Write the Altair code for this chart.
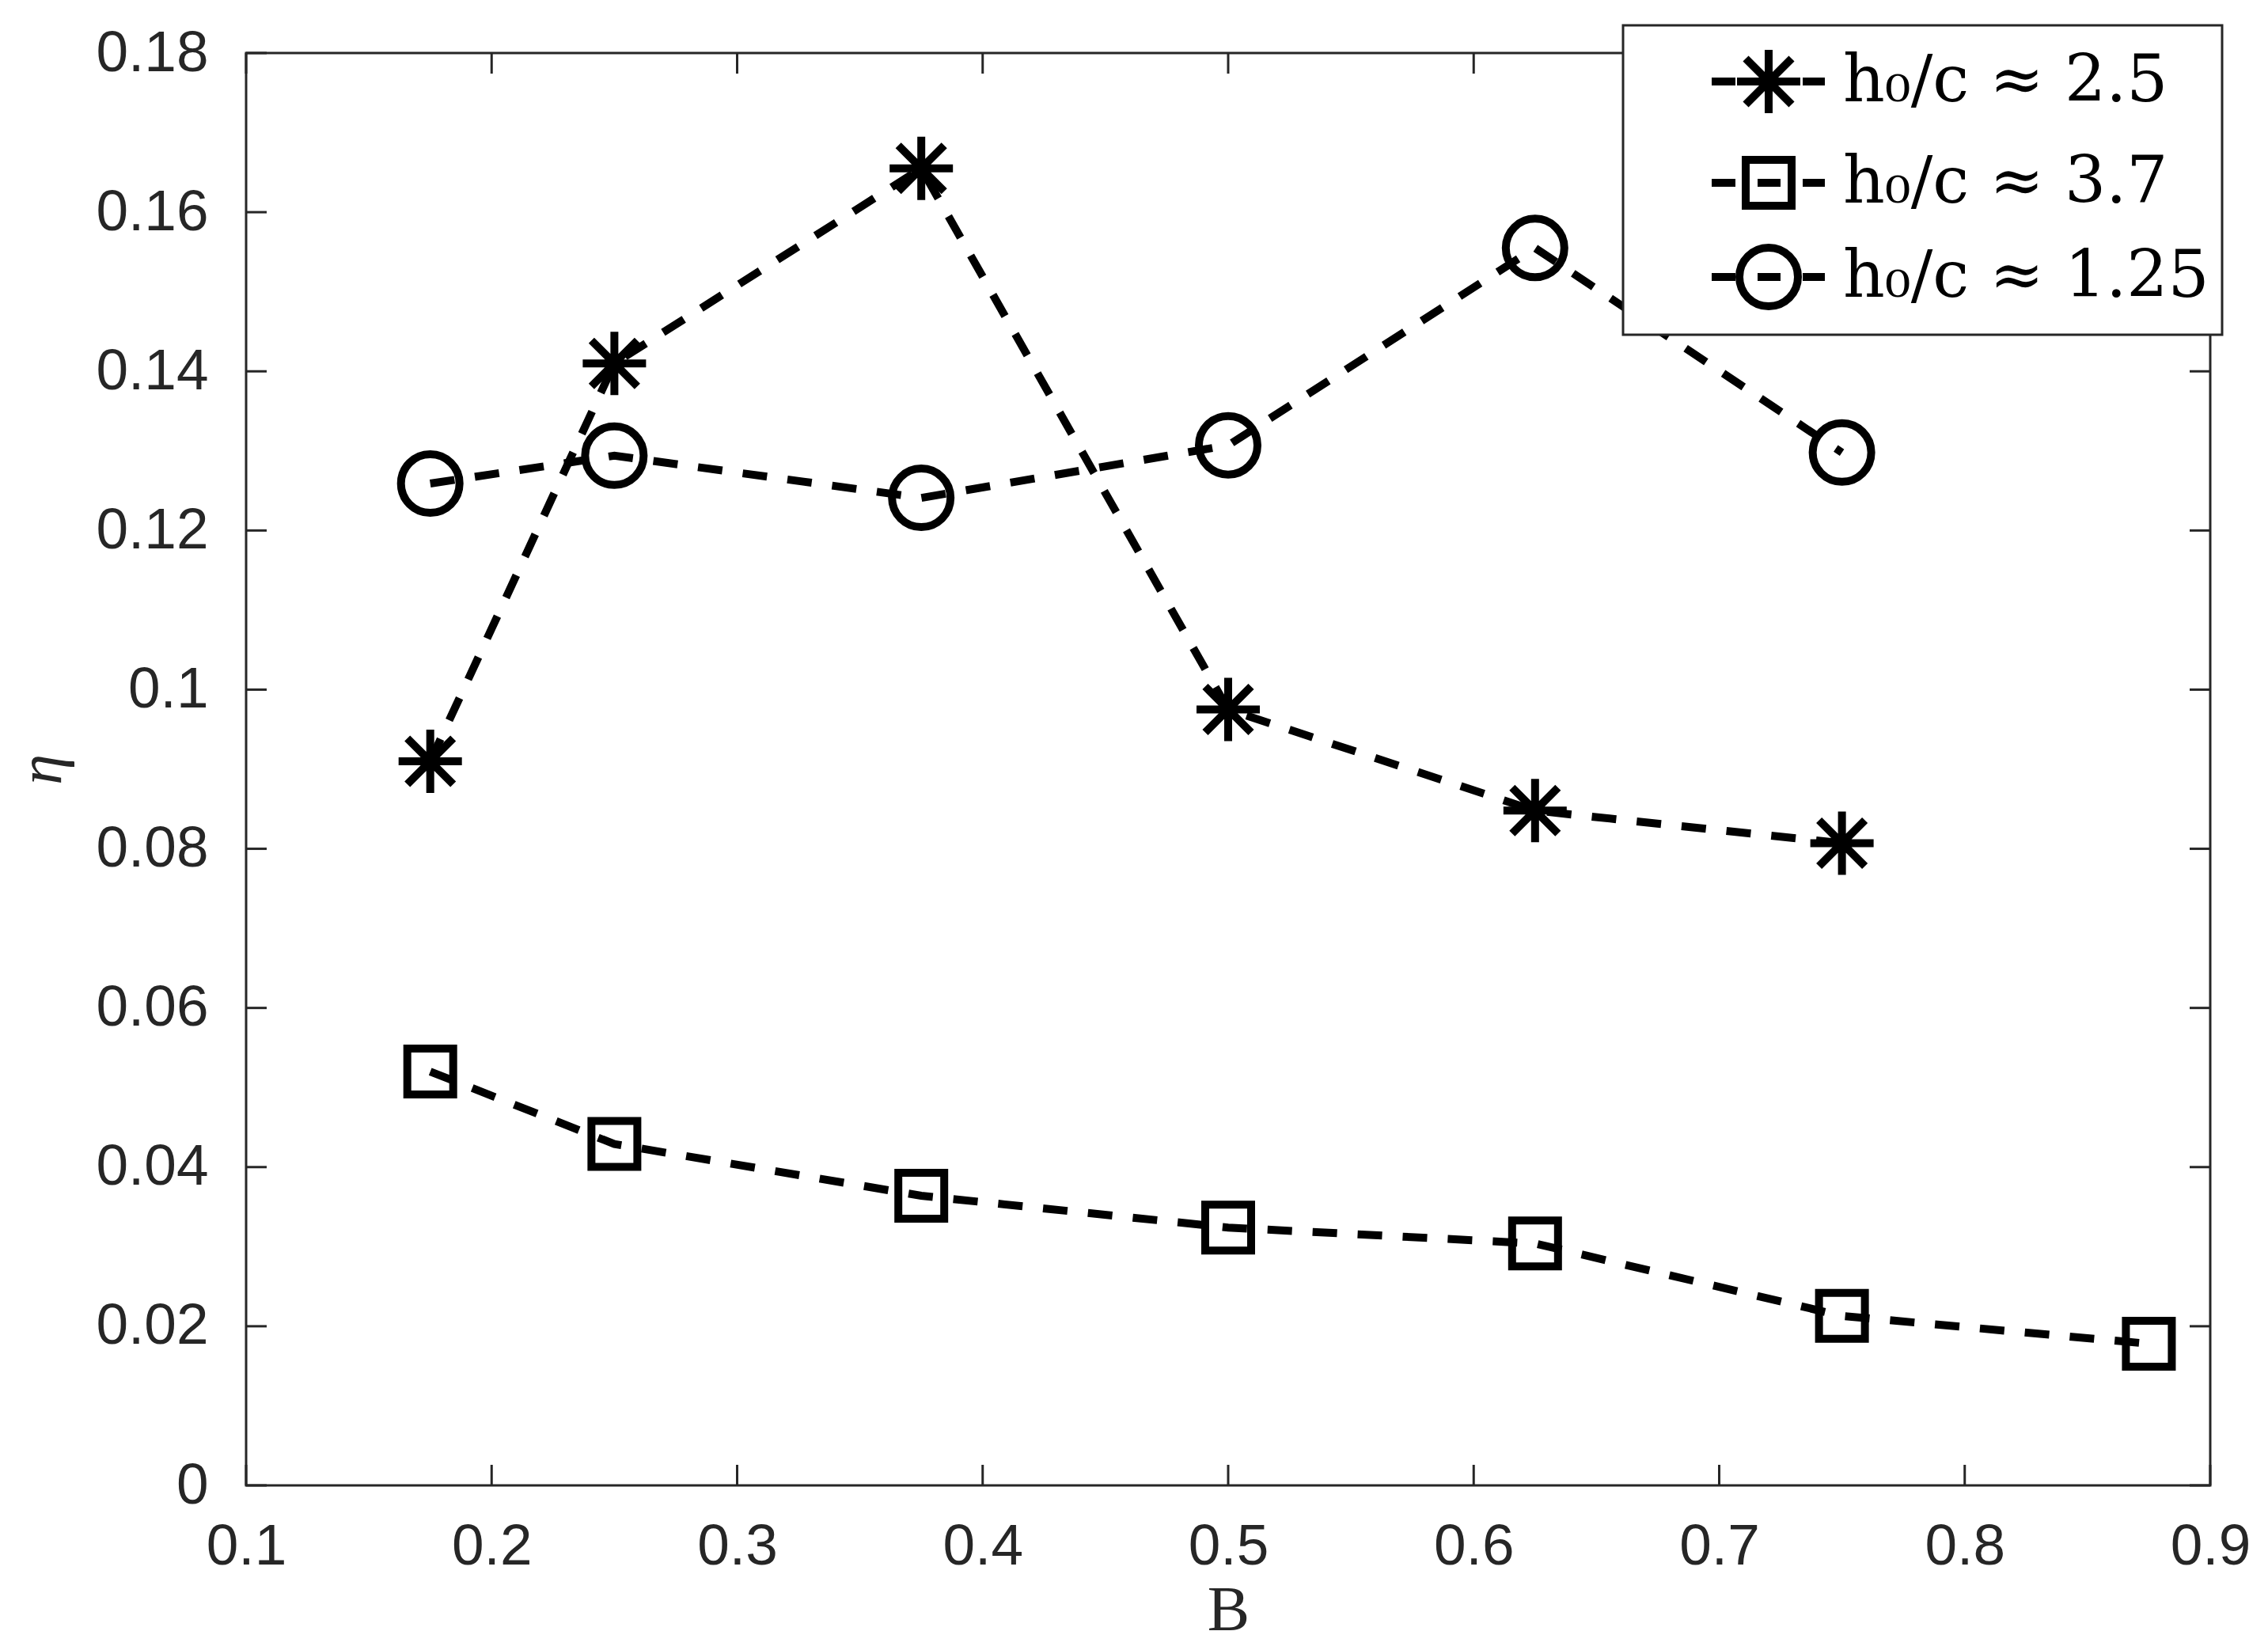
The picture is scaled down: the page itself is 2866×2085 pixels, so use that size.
import altair as alt
import pandas as pd

# ---- data ----
B_star = [0.175, 0.25, 0.375, 0.5, 0.625, 0.75]
eta_star = [0.0910, 0.1410, 0.1655, 0.0975, 0.0848, 0.0807]

B_square = [0.175, 0.25, 0.375, 0.5, 0.625, 0.75, 0.875]
eta_square = [0.0520, 0.0429, 0.0364, 0.0324, 0.0304, 0.0213, 0.0178]

B_circle = [0.175, 0.25, 0.375, 0.5, 0.625, 0.75]
eta_circle = [0.1259, 0.1294, 0.1241, 0.1307, 0.1555, 0.1298]

series_labels = ["h₀/c ≈ 2.5", "h₀/c ≈ 3.7", "h₀/c ≈ 1.25"]

x_ticks = [0.1, 0.2, 0.3, 0.4, 0.5, 0.6, 0.7, 0.8, 0.9]
y_ticks = [0, 0.02, 0.04, 0.06, 0.08, 0.1, 0.12, 0.14, 0.16, 0.18]

# ---- marker shapes (unit = 50 px at size 10000) ----
asterisk = "M0,-0.8L0,0.8M-0.8,0L0.8,0M-0.58,-0.58L0.58,0.58M-0.58,0.58L0.58,-0.58"
square = "M-0.58,-0.58L0.58,-0.58L0.58,0.58L-0.58,0.58Z"
circle = "M-0.74,0A0.74,0.74,0,1,0,0.74,0A0.74,0.74,0,1,0,-0.74,0Z"
side_dashes = "M-1.44,0L-0.84,0M0.86,0L1.42,0"
mid_dash = "M-0.28,0L0.3,0"
marker_paths = [asterisk, square, circle]
legend_paths = [side_dashes + asterisk,
                side_dashes + mid_dash + square,
                side_dashes + mid_dash + circle]

rows = []
for b, e in zip(B_star, eta_star):
    rows.append({"B": b, "eta": e, "series": series_labels[0]})
for b, e in zip(B_square, eta_square):
    rows.append({"B": b, "eta": e, "series": series_labels[1]})
for b, e in zip(B_circle, eta_circle):
    rows.append({"B": b, "eta": e, "series": series_labels[2]})
df = pd.DataFrame(rows)

W, H = 2482, 1810
TICK = 26
AXC = "#262626"

xscale = alt.Scale(domain=[0.1, 0.9], nice=False, zero=False)
yscale = alt.Scale(domain=[0, 0.18], nice=False, zero=False)

x_axis = alt.Axis(values=x_ticks, format="~g", title="B",
                  labelPadding=41, labelFlush=False, labelOverlap=False,
                  titleX=W / 2, titleY=182, titleAlign="center",
                  titleBaseline="alphabetic", titleFontSize=80)
y_axis = alt.Axis(values=y_ticks, format="~g", title="η",
                  labelPadding=48, labelFlush=False, labelOverlap=False,
                  titleX=-235, titleY=H / 2, titleAngle=270,
                  titleAlign="center", titleBaseline="alphabetic",
                  titleFontStyle="italic", titleFontSize=78)

base = alt.Chart(df)

lines = base.mark_line(color="black", strokeWidth=10, strokeDash=[31, 26]).encode(
    x=alt.X("B:Q", scale=xscale, axis=x_axis),
    y=alt.Y("eta:Q", scale=yscale, axis=y_axis),
    detail="series:N",
)

points = base.mark_point(filled=False, color="black", strokeWidth=10, size=10000,
                         opacity=1).encode(
    x=alt.X("B:Q", scale=xscale, axis=x_axis),
    y=alt.Y("eta:Q", scale=yscale, axis=y_axis),
    shape=alt.Shape("series:N",
                    scale=alt.Scale(domain=series_labels, range=marker_paths),
                    legend=None),
)

legend_layer = base.mark_point(filled=False, color="black", strokeWidth=10,
                               size=10000, opacity=0).encode(
    x=alt.X("B:Q", scale=xscale, axis=x_axis),
    y=alt.Y("eta:Q", scale=yscale, axis=y_axis),
    shape=alt.Shape("series:N",
                    scale=alt.Scale(domain=series_labels, range=legend_paths),
                    legend=alt.Legend(title=None, orient="none",
                                      legendX=1740, legendY=-35,
                                      padding=16, rowPadding=13,
                                      symbolSize=10000, symbolStrokeWidth=10,
                                      symbolStrokeColor="black",
                                      symbolFillColor="transparent",
                                      symbolOpacity=1, symbolOffset=113,
                                      labelOffset=39, labelFont="DejaVu Serif",
                                      labelFontSize=82, labelColor="black",
                                      labelLimit=2000,
                                      strokeColor=AXC, fillColor="white")),
)

xt = pd.DataFrame({"B": x_ticks})
yt = pd.DataFrame({"eta": y_ticks})
rule_kw = dict(color=AXC, strokeWidth=3)

xt_bottom = alt.Chart(xt).mark_rule(**rule_kw).encode(
    x=alt.X("B:Q", scale=xscale, axis=x_axis),
    y=alt.value(H), y2=alt.value(H - TICK))
xt_top = alt.Chart(xt).mark_rule(**rule_kw).encode(
    x=alt.X("B:Q", scale=xscale, axis=x_axis),
    y=alt.value(0), y2=alt.value(TICK))
yt_left = alt.Chart(yt).mark_rule(**rule_kw).encode(
    y=alt.Y("eta:Q", scale=yscale, axis=y_axis),
    x=alt.value(0), x2=alt.value(TICK))
yt_right = alt.Chart(yt).mark_rule(**rule_kw).encode(
    y=alt.Y("eta:Q", scale=yscale, axis=y_axis),
    x=alt.value(W), x2=alt.value(W - TICK))

chart = alt.layer(
    lines, xt_bottom, xt_top, yt_left, yt_right, points, legend_layer
).resolve_scale(
    shape="independent"
).properties(
    width=W, height=H,
    padding={"left": 303, "top": 59, "right": 57, "bottom": 200},
    autosize=alt.AutoSizeParams(type="none"),
    background="white",
).configure_view(
    stroke=AXC, strokeWidth=3
).configure_axis(
    domain=False, ticks=False, grid=False,
    labelFont="Liberation Sans", labelFontSize=73, labelColor=AXC,
    titleFont="Liberation Serif", titleFontSize=80, titleFontWeight="normal",
    titleColor=AXC,
).configure_legend(
    strokeWidth=3
)

chart.save("out.html", embed_options={"renderer": "svg", "actions": False})
